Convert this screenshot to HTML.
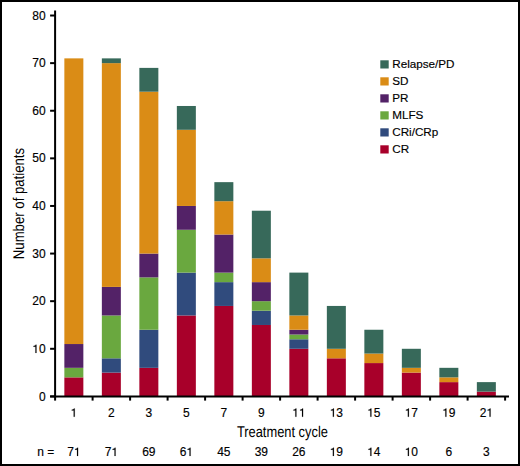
<!DOCTYPE html>
<html><head><meta charset="utf-8"><style>
html,body{margin:0;padding:0;background:#fff;}
#c{position:relative;width:520px;height:466px;overflow:hidden;background:#fff;}
#c:after{content:"";position:absolute;left:0;top:0;width:520px;height:466px;box-sizing:border-box;border:2px solid #000;}
svg{position:absolute;left:0;top:0;}
text{font-family:"Liberation Sans",sans-serif;fill:#000;}
.d{stroke:#000;stroke-width:0.15px;}
.g1{stroke:#000;stroke-width:25;}
</style></head><body><div id="c">
<svg width="520" height="466" viewBox="0 0 520 466">
<rect x="64.35" y="377.36" width="19.0" height="19.04" fill="#A8002A"/>
<rect x="64.35" y="367.83" width="19.0" height="9.52" fill="#6AA83F"/>
<rect x="64.35" y="344.03" width="19.0" height="23.80" fill="#532267"/>
<rect x="64.35" y="58.37" width="19.0" height="285.66" fill="#DA8C16"/>
<rect x="101.85" y="372.59" width="19.0" height="23.81" fill="#A8002A"/>
<rect x="101.85" y="358.31" width="19.0" height="14.28" fill="#304B7D"/>
<rect x="101.85" y="315.46" width="19.0" height="42.85" fill="#6AA83F"/>
<rect x="101.85" y="286.90" width="19.0" height="28.57" fill="#532267"/>
<rect x="101.85" y="63.13" width="19.0" height="223.77" fill="#DA8C16"/>
<rect x="101.85" y="58.37" width="19.0" height="4.76" fill="#37695A"/>
<rect x="139.35" y="367.83" width="19.0" height="28.57" fill="#A8002A"/>
<rect x="139.35" y="329.75" width="19.0" height="38.09" fill="#304B7D"/>
<rect x="139.35" y="277.38" width="19.0" height="52.37" fill="#6AA83F"/>
<rect x="139.35" y="253.57" width="19.0" height="23.81" fill="#532267"/>
<rect x="139.35" y="91.70" width="19.0" height="161.87" fill="#DA8C16"/>
<rect x="139.35" y="67.89" width="19.0" height="23.81" fill="#37695A"/>
<rect x="176.85" y="315.46" width="19.0" height="80.94" fill="#A8002A"/>
<rect x="176.85" y="272.61" width="19.0" height="42.85" fill="#304B7D"/>
<rect x="176.85" y="229.76" width="19.0" height="42.85" fill="#6AA83F"/>
<rect x="176.85" y="205.96" width="19.0" height="23.81" fill="#532267"/>
<rect x="176.85" y="129.78" width="19.0" height="76.18" fill="#DA8C16"/>
<rect x="176.85" y="105.98" width="19.0" height="23.81" fill="#37695A"/>
<rect x="214.35" y="305.94" width="19.0" height="90.46" fill="#A8002A"/>
<rect x="214.35" y="282.14" width="19.0" height="23.81" fill="#304B7D"/>
<rect x="214.35" y="272.61" width="19.0" height="9.52" fill="#6AA83F"/>
<rect x="214.35" y="234.53" width="19.0" height="38.09" fill="#532267"/>
<rect x="214.35" y="201.20" width="19.0" height="33.33" fill="#DA8C16"/>
<rect x="214.35" y="182.15" width="19.0" height="19.04" fill="#37695A"/>
<rect x="251.85" y="324.98" width="19.0" height="71.42" fill="#A8002A"/>
<rect x="251.85" y="310.70" width="19.0" height="14.28" fill="#304B7D"/>
<rect x="251.85" y="301.18" width="19.0" height="9.52" fill="#6AA83F"/>
<rect x="251.85" y="282.14" width="19.0" height="19.04" fill="#532267"/>
<rect x="251.85" y="258.33" width="19.0" height="23.81" fill="#DA8C16"/>
<rect x="251.85" y="210.72" width="19.0" height="47.61" fill="#37695A"/>
<rect x="289.35" y="348.79" width="19.0" height="47.61" fill="#A8002A"/>
<rect x="289.35" y="339.27" width="19.0" height="9.52" fill="#304B7D"/>
<rect x="289.35" y="334.51" width="19.0" height="4.76" fill="#6AA83F"/>
<rect x="289.35" y="329.75" width="19.0" height="4.76" fill="#532267"/>
<rect x="289.35" y="315.46" width="19.0" height="14.28" fill="#DA8C16"/>
<rect x="289.35" y="272.61" width="19.0" height="42.85" fill="#37695A"/>
<rect x="326.85" y="358.31" width="19.0" height="38.09" fill="#A8002A"/>
<rect x="326.85" y="348.79" width="19.0" height="9.52" fill="#DA8C16"/>
<rect x="326.85" y="305.94" width="19.0" height="42.85" fill="#37695A"/>
<rect x="364.35" y="363.07" width="19.0" height="33.33" fill="#A8002A"/>
<rect x="364.35" y="353.55" width="19.0" height="9.52" fill="#DA8C16"/>
<rect x="364.35" y="329.75" width="19.0" height="23.81" fill="#37695A"/>
<rect x="401.85" y="372.59" width="19.0" height="23.81" fill="#A8002A"/>
<rect x="401.85" y="367.83" width="19.0" height="4.76" fill="#DA8C16"/>
<rect x="401.85" y="348.79" width="19.0" height="19.04" fill="#37695A"/>
<rect x="439.35" y="382.12" width="19.0" height="14.28" fill="#A8002A"/>
<rect x="439.35" y="377.36" width="19.0" height="4.76" fill="#DA8C16"/>
<rect x="439.35" y="367.83" width="19.0" height="9.52" fill="#37695A"/>
<rect x="476.85" y="391.64" width="19.0" height="4.76" fill="#A8002A"/>
<rect x="476.85" y="382.12" width="19.0" height="9.52" fill="#37695A"/>
<line x1="55.1" y1="10.6" x2="55.1" y2="397.4" stroke="#000" stroke-width="2"/>
<line x1="50.1" y1="396.4" x2="509" y2="396.4" stroke="#000" stroke-width="2"/>
<line x1="50.1" y1="396.40" x2="55.1" y2="396.40" stroke="#000" stroke-width="2"/>
<line x1="50.1" y1="348.79" x2="55.1" y2="348.79" stroke="#000" stroke-width="2"/>
<line x1="50.1" y1="301.18" x2="55.1" y2="301.18" stroke="#000" stroke-width="2"/>
<line x1="50.1" y1="253.57" x2="55.1" y2="253.57" stroke="#000" stroke-width="2"/>
<line x1="50.1" y1="205.96" x2="55.1" y2="205.96" stroke="#000" stroke-width="2"/>
<line x1="50.1" y1="158.35" x2="55.1" y2="158.35" stroke="#000" stroke-width="2"/>
<line x1="50.1" y1="110.74" x2="55.1" y2="110.74" stroke="#000" stroke-width="2"/>
<line x1="50.1" y1="63.13" x2="55.1" y2="63.13" stroke="#000" stroke-width="2"/>
<line x1="50.1" y1="15.52" x2="55.1" y2="15.52" stroke="#000" stroke-width="2"/>
<line x1="55.10" y1="396.4" x2="55.10" y2="400.6" stroke="#000" stroke-width="2"/>
<line x1="92.60" y1="396.4" x2="92.60" y2="400.6" stroke="#000" stroke-width="2"/>
<line x1="130.10" y1="396.4" x2="130.10" y2="400.6" stroke="#000" stroke-width="2"/>
<line x1="167.60" y1="396.4" x2="167.60" y2="400.6" stroke="#000" stroke-width="2"/>
<line x1="205.10" y1="396.4" x2="205.10" y2="400.6" stroke="#000" stroke-width="2"/>
<line x1="242.60" y1="396.4" x2="242.60" y2="400.6" stroke="#000" stroke-width="2"/>
<line x1="280.10" y1="396.4" x2="280.10" y2="400.6" stroke="#000" stroke-width="2"/>
<line x1="317.60" y1="396.4" x2="317.60" y2="400.6" stroke="#000" stroke-width="2"/>
<line x1="355.10" y1="396.4" x2="355.10" y2="400.6" stroke="#000" stroke-width="2"/>
<line x1="392.60" y1="396.4" x2="392.60" y2="400.6" stroke="#000" stroke-width="2"/>
<line x1="430.10" y1="396.4" x2="430.10" y2="400.6" stroke="#000" stroke-width="2"/>
<line x1="467.60" y1="396.4" x2="467.60" y2="400.6" stroke="#000" stroke-width="2"/>
<line x1="505.10" y1="396.4" x2="505.10" y2="400.6" stroke="#000" stroke-width="2"/>
<text class="d" x="38.93" y="400.53" font-size="12">0</text>
<path class="g1" transform="translate(32.25,352.92) scale(0.005859,-0.005859)" d="M540 0L722 0L722 1409L585 1409C548 1295 455 1212 205 1196L205 1068L540 1068Z"/>
<text class="d" x="38.93" y="352.92" font-size="12">0</text>
<text class="d" x="32.25" y="305.31" font-size="12">2</text>
<text class="d" x="38.93" y="305.31" font-size="12">0</text>
<text class="d" x="32.25" y="257.70" font-size="12">3</text>
<text class="d" x="38.93" y="257.70" font-size="12">0</text>
<text class="d" x="32.25" y="210.09" font-size="12">4</text>
<text class="d" x="38.93" y="210.09" font-size="12">0</text>
<text class="d" x="32.25" y="162.48" font-size="12">5</text>
<text class="d" x="38.93" y="162.48" font-size="12">0</text>
<text class="d" x="32.25" y="114.87" font-size="12">6</text>
<text class="d" x="38.93" y="114.87" font-size="12">0</text>
<text class="d" x="32.25" y="67.26" font-size="12">7</text>
<text class="d" x="38.93" y="67.26" font-size="12">0</text>
<text class="d" x="32.25" y="19.65" font-size="12">8</text>
<text class="d" x="38.93" y="19.65" font-size="12">0</text>
<path class="g1" transform="translate(70.51,416.80) scale(0.005859,-0.005859)" d="M540 0L722 0L722 1409L585 1409C548 1295 455 1212 205 1196L205 1068L540 1068Z"/>
<text class="d" x="67.18" y="455.90" font-size="12">7</text>
<path class="g1" transform="translate(73.85,455.90) scale(0.005859,-0.005859)" d="M540 0L722 0L722 1409L585 1409C548 1295 455 1212 205 1196L205 1068L540 1068Z"/>
<text class="d" x="108.01" y="416.80" font-size="12">2</text>
<text class="d" x="104.68" y="455.90" font-size="12">7</text>
<path class="g1" transform="translate(111.35,455.90) scale(0.005859,-0.005859)" d="M540 0L722 0L722 1409L585 1409C548 1295 455 1212 205 1196L205 1068L540 1068Z"/>
<text class="d" x="145.51" y="416.80" font-size="12">3</text>
<text class="d" x="142.18" y="455.90" font-size="12">6</text>
<text class="d" x="148.85" y="455.90" font-size="12">9</text>
<text class="d" x="183.01" y="416.80" font-size="12">5</text>
<text class="d" x="179.68" y="455.90" font-size="12">6</text>
<path class="g1" transform="translate(186.35,455.90) scale(0.005859,-0.005859)" d="M540 0L722 0L722 1409L585 1409C548 1295 455 1212 205 1196L205 1068L540 1068Z"/>
<text class="d" x="220.51" y="416.80" font-size="12">7</text>
<text class="d" x="217.18" y="455.90" font-size="12">4</text>
<text class="d" x="223.85" y="455.90" font-size="12">5</text>
<text class="d" x="258.01" y="416.80" font-size="12">9</text>
<text class="d" x="254.68" y="455.90" font-size="12">3</text>
<text class="d" x="261.35" y="455.90" font-size="12">9</text>
<path class="g1" transform="translate(292.18,416.80) scale(0.005859,-0.005859)" d="M540 0L722 0L722 1409L585 1409C548 1295 455 1212 205 1196L205 1068L540 1068Z"/>
<path class="g1" transform="translate(298.85,416.80) scale(0.005859,-0.005859)" d="M540 0L722 0L722 1409L585 1409C548 1295 455 1212 205 1196L205 1068L540 1068Z"/>
<text class="d" x="292.18" y="455.90" font-size="12">2</text>
<text class="d" x="298.85" y="455.90" font-size="12">6</text>
<path class="g1" transform="translate(329.68,416.80) scale(0.005859,-0.005859)" d="M540 0L722 0L722 1409L585 1409C548 1295 455 1212 205 1196L205 1068L540 1068Z"/>
<text class="d" x="336.35" y="416.80" font-size="12">3</text>
<path class="g1" transform="translate(329.68,455.90) scale(0.005859,-0.005859)" d="M540 0L722 0L722 1409L585 1409C548 1295 455 1212 205 1196L205 1068L540 1068Z"/>
<text class="d" x="336.35" y="455.90" font-size="12">9</text>
<path class="g1" transform="translate(367.18,416.80) scale(0.005859,-0.005859)" d="M540 0L722 0L722 1409L585 1409C548 1295 455 1212 205 1196L205 1068L540 1068Z"/>
<text class="d" x="373.85" y="416.80" font-size="12">5</text>
<path class="g1" transform="translate(367.18,455.90) scale(0.005859,-0.005859)" d="M540 0L722 0L722 1409L585 1409C548 1295 455 1212 205 1196L205 1068L540 1068Z"/>
<text class="d" x="373.85" y="455.90" font-size="12">4</text>
<path class="g1" transform="translate(404.68,416.80) scale(0.005859,-0.005859)" d="M540 0L722 0L722 1409L585 1409C548 1295 455 1212 205 1196L205 1068L540 1068Z"/>
<text class="d" x="411.35" y="416.80" font-size="12">7</text>
<path class="g1" transform="translate(404.68,455.90) scale(0.005859,-0.005859)" d="M540 0L722 0L722 1409L585 1409C548 1295 455 1212 205 1196L205 1068L540 1068Z"/>
<text class="d" x="411.35" y="455.90" font-size="12">0</text>
<path class="g1" transform="translate(442.18,416.80) scale(0.005859,-0.005859)" d="M540 0L722 0L722 1409L585 1409C548 1295 455 1212 205 1196L205 1068L540 1068Z"/>
<text class="d" x="448.85" y="416.80" font-size="12">9</text>
<text class="d" x="445.51" y="455.90" font-size="12">6</text>
<text class="d" x="479.68" y="416.80" font-size="12">2</text>
<path class="g1" transform="translate(486.35,416.80) scale(0.005859,-0.005859)" d="M540 0L722 0L722 1409L585 1409C548 1295 455 1212 205 1196L205 1068L540 1068Z"/>
<text class="d" x="483.01" y="455.90" font-size="12">3</text>
<text class="d" x="37.3" y="455.9" font-size="12">n =</text>
<text transform="translate(236.9,436.6) scale(0.83,1)" font-size="15.5" text-rendering="geometricPrecision">Treatment cycle</text>
<text transform="translate(23.8,259.2) rotate(-90) scale(0.85,1)" font-size="15.5" text-rendering="geometricPrecision">Number of patients</text>
<rect x="380.3" y="60.30" width="8.4" height="8.2" fill="#37695A"/>
<text class="d" x="392.2" y="67.60" font-size="11.7">Relapse/PD</text>
<rect x="380.3" y="77.30" width="8.4" height="8.2" fill="#DA8C16"/>
<text class="d" x="392.2" y="84.60" font-size="11.7">SD</text>
<rect x="380.3" y="94.30" width="8.4" height="8.2" fill="#532267"/>
<text class="d" x="392.2" y="101.60" font-size="11.7">PR</text>
<rect x="380.3" y="111.30" width="8.4" height="8.2" fill="#6AA83F"/>
<text class="d" x="392.2" y="118.60" font-size="11.7">MLFS</text>
<rect x="380.3" y="128.30" width="8.4" height="8.2" fill="#304B7D"/>
<text class="d" x="392.2" y="135.60" font-size="11.7">CRi/CRp</text>
<rect x="380.3" y="145.30" width="8.4" height="8.2" fill="#A8002A"/>
<text class="d" x="392.2" y="152.60" font-size="11.7">CR</text>
</svg></div></body></html>
